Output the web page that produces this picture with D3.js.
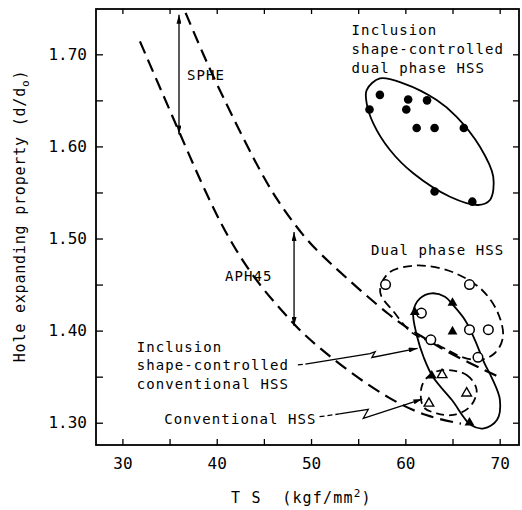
<!DOCTYPE html>
<html>
<head>
<meta charset="utf-8">
<script src="https://cdn.jsdelivr.net/npm/d3@7"></script>
<style>
  body { margin: 0; background: #fff; }
  text { font-family: "DejaVu Sans Mono", "Liberation Mono", monospace; fill: #000; white-space: pre; }
</style>
</head>
<body>
<div id="chart"></div>
<script>
// values: TS (kgf/mm2) and hole expanding property (d/d0)

// inclusion shape-controlled dual phase HSS (filled circles)
var scDualTS = [57.3, 56.2, 60.3, 62.3, 60.1, 61.2, 63.1, 66.2, 63.1, 67.1];
var scDualHE = [1.656, 1.640, 1.651, 1.650, 1.640, 1.620, 1.620, 1.620, 1.551, 1.540];

// dual phase HSS (open circles)
var dualTS = [57.9, 66.8, 61.7, 66.8, 68.8, 62.7, 67.7];
var dualHE = [1.450, 1.450, 1.419, 1.401, 1.401, 1.390, 1.371];

// inclusion shape-controlled conventional HSS (filled triangles)
var scConvTS = [65.0, 61.0, 65.0, 62.8, 66.8];
var scConvHE = [1.430, 1.420, 1.399, 1.351, 1.300];

// conventional HSS (open triangles)
var convTS = [63.9, 66.5, 62.5];
var convHE = [1.352, 1.332, 1.321];

// SPHE and APH45 boundary curves (dashed)
var sphTS = [36.7, 38.6, 40.3, 44.2, 46.35, 49.2, 51.4, 58.9, 61.9, 63.5, 65.2, 68.4, 69.85];
var sphHE = [1.745, 1.699, 1.661, 1.580, 1.542, 1.502, 1.4785, 1.410, 1.393, 1.3825, 1.373, 1.357, 1.350];
var aphTS = [31.86, 35.92, 39.28, 41.75, 44.58, 48.1, 49.5, 53.77, 58.37, 62.26, 65.9];
var aphHE = [1.714, 1.618, 1.539, 1.491, 1.448, 1.408, 1.393, 1.357, 1.325, 1.3065, 1.299];

// group outlines
var scDualLoopTS = [55.9, 57.31, 59.78, 63.32, 65.44, 67.91, 69.32, 68.97, 67.73, 64.73, 60.84, 58.37, 56.6, 55.9];
var scDualLoopHE = [1.6612, 1.6739, 1.6685, 1.6504, 1.6322, 1.5997, 1.5671, 1.5418, 1.5364, 1.5454, 1.5708, 1.5961, 1.6251, 1.6468];
var dualLoopTS = [57.41, 58.37, 60.49, 62.4, 65.26, 68.13, 69.82, 70.35, 69.5, 67.91, 66.0, 63.46, 60.6, 58.79, 57.41];
var dualLoopHE = [1.4495, 1.4636, 1.4701, 1.4701, 1.4625, 1.4441, 1.4191, 1.3931, 1.3757, 1.3681, 1.3714, 1.3844, 1.3985, 1.4202, 1.4386];
var scConvLoopTS = [60.84, 61.55, 62.79, 64.2, 65.05, 66.32, 67.38, 68.33, 69.18, 70.03, 69.71, 68.33, 66.95, 64.94, 62.93, 61.97, 61.23];
var scConvLoopHE = [1.4205, 1.435, 1.4405, 1.4368, 1.4278, 1.4115, 1.3898, 1.3659, 1.3485, 1.3246, 1.3029, 1.2939, 1.2975, 1.3246, 1.3496, 1.3703, 1.3941];
var convLoopTS = [64.02, 66.5, 67.56, 66.85, 65.08, 63.32, 61.9, 61.73, 62.61];
var convLoopHE = [1.3572, 1.3518, 1.3355, 1.3174, 1.3084, 1.3102, 1.3174, 1.3391, 1.3518];

// axis ticks
var yMajor = [1.30, 1.40, 1.50, 1.60, 1.70];
var yTicks = [1.30, 1.35, 1.40, 1.45, 1.50, 1.55, 1.60, 1.65, 1.70];
var xMajor = [30, 40, 50, 60, 70];
var xTicks = [30, 35, 40, 45, 50, 55, 60, 65, 70];

///////////////////////////////////////////////////////////////////////////////

var W = 522, H = 510;
var padL = 96, padR = 519, padT = 9, padB = 445;

var x = d3.scaleLinear().domain([27.2, 72.05]).range([padL, padR]);
var y = d3.scaleLinear().domain([1.2758, 1.7492]).range([padB, padT]);

var svg = d3.select("#chart").append("svg")
    .attr("width", W)
    .attr("height", H);

// slim arrow head for the range arrows and callouts
svg.append("defs").append("marker")
    .attr("id", "tip")
    .attr("viewBox", "0 0 9 5")
    .attr("refX", 9).attr("refY", 2.5)
    .attr("markerWidth", 9).attr("markerHeight", 5)
    .attr("markerUnits", "userSpaceOnUse")
    .attr("orient", "auto-start-reverse")
  .append("path")
    .attr("d", "M0,0L9,2.5L0,5Z")
    .attr("fill", "#000");

function pts(xs, ys) { return d3.zip(xs, ys); }

var line = d3.line()
    .x(function(d) { return x(d[0]); })
    .y(function(d) { return y(d[1]); });

//axes, ticks pointing inward on all four sides
function noLabel() { return ""; }

svg.append("g")
    .attr("transform", "translate(" + padL + ",0)")
    .call(d3.axisLeft(y).tickValues(yTicks).tickSize(-7).tickPadding(9)
        .tickFormat(function(d) { return yMajor.some(function(m) { return Math.abs(m - d) < 1e-6; }) ? d3.format(".2f")(d) : ""; }));

svg.append("g")
    .attr("transform", "translate(" + padR + ",0)")
    .call(d3.axisRight(y).tickValues(yTicks).tickSize(-6).tickFormat(noLabel));

svg.append("g")
    .attr("transform", "translate(0," + padB + ")")
    .call(d3.axisBottom(x).tickValues(xTicks).tickSize(-6).tickPadding(13)
        .tickFormat(function(d) { return xMajor.indexOf(d) >= 0 ? d : ""; }));

svg.append("g")
    .attr("transform", "translate(0," + padT + ")")
    .call(d3.axisTop(x).tickValues(xTicks).tickSize(-5).tickFormat(noLabel));

svg.selectAll(".domain").remove();
svg.selectAll(".tick line").attr("stroke", "#000").attr("stroke-width", 1.3);
svg.selectAll(".tick text")
    .style("font-family", "'DejaVu Sans Mono', monospace")
    .style("font-size", "16px")
    .attr("fill", "#000");

svg.append("rect")
    .attr("x", padL).attr("y", padT)
    .attr("width", padR - padL).attr("height", padB - padT)
    .attr("fill", "none")
    .attr("stroke", "#000")
    .attr("stroke-width", 1.8);

// axis titles
var xt = svg.append("text")
    .attr("x", 231).attr("y", 503)
    .style("font-size", "15px").style("letter-spacing", "1.2px");
xt.append("tspan").text("T S  (kgf/mm");
xt.append("tspan").attr("dy", -6).style("font-size", "11px").text("2");
xt.append("tspan").attr("dy", 6).text(")");

var yt = svg.append("text")
    .attr("transform", "translate(25,216) rotate(-90)")
    .attr("text-anchor", "middle")
    .style("font-size", "15px").style("letter-spacing", "0.8px");
yt.append("tspan").text("Hole expanding property (d/d");
yt.append("tspan").attr("dy", 4).style("font-size", "11px").text("o");
yt.append("tspan").attr("dy", -4).text(")");

///////////////////////////////////////////////////////////////////////////////
// boundary curves

var curve = d3.line()
    .x(function(d) { return x(d[0]); })
    .y(function(d) { return y(d[1]); })
    .curve(d3.curveBasis);

[pts(sphTS, sphHE), pts(aphTS, aphHE)].forEach(function(c) {
  svg.append("path")
      .attr("d", curve(c))
      .attr("fill", "none")
      .attr("stroke", "#000")
      .attr("stroke-width", 2.2)
      .attr("stroke-dasharray", "13,7");
});

// group outlines
var loop = d3.line()
    .x(function(d) { return x(d[0]); })
    .y(function(d) { return y(d[1]); })
    .curve(d3.curveCatmullRomClosed);

var outlines = [
  {p: pts(scDualLoopTS, scDualLoopHE), dash: null},
  {p: pts(dualLoopTS, dualLoopHE), dash: "9,5"},
  {p: pts(scConvLoopTS, scConvLoopHE), dash: null},
  {p: pts(convLoopTS, convLoopHE), dash: "8,5"}
];
outlines.forEach(function(o) {
  svg.append("path")
      .attr("d", loop(o.p))
      .attr("fill", "none")
      .attr("stroke", "#000")
      .attr("stroke-width", 1.8)
      .attr("stroke-dasharray", o.dash);
});

// SPHE / APH45 range arrows
[[36.0, 1.743, 1.613], [48.2, 1.507, 1.405]].forEach(function(a) {
  svg.append("line")
      .attr("x1", x(a[0])).attr("x2", x(a[0]))
      .attr("y1", y(a[1])).attr("y2", y(a[2]))
      .attr("stroke", "#000").attr("stroke-width", 1.3)
      .attr("marker-start", "url(#tip)")
      .attr("marker-end", "url(#tip)");
});

// zig-zag callouts from the lower left labels
var callouts = [
  {dashed: [[48.6, 1.3627], [49.4, 1.3637]],
   solid: [[49.4, 1.3637], [56.25, 1.3751], [56.8, 1.3772], [56.45, 1.3708], [61.3, 1.3808]]},
  {dashed: [[50.9, 1.3065], [53.0, 1.3095]],
   solid: [[53.0, 1.3095], [56.07, 1.3145], [55.54, 1.3048], [61.8, 1.3257]]}
];
callouts.forEach(function(c) {
  svg.append("path")
      .attr("d", line(c.dashed))
      .attr("fill", "none").attr("stroke", "#000").attr("stroke-width", 1.3)
      .attr("stroke-dasharray", "5,3");
  svg.append("path")
      .attr("d", line(c.solid))
      .attr("fill", "none").attr("stroke", "#000").attr("stroke-width", 1.3)
      .attr("marker-end", "url(#tip)");
});

///////////////////////////////////////////////////////////////////////////////
// points

svg.selectAll("circle.scdual")
    .data(pts(scDualTS, scDualHE))
    .enter().append("circle")
    .attr("class", "scdual")
    .attr("cx", function(d) { return x(d[0]); })
    .attr("cy", function(d) { return y(d[1]); })
    .attr("r", 4.3)
    .attr("fill", "#000");

svg.selectAll("circle.dual")
    .data(pts(dualTS, dualHE))
    .enter().append("circle")
    .attr("class", "dual")
    .attr("cx", function(d) { return x(d[0]); })
    .attr("cy", function(d) { return y(d[1]); })
    .attr("r", 4.8)
    .attr("fill", "#fff")
    .attr("stroke", "#000")
    .attr("stroke-width", 1.5);

var tri = d3.symbol().type(d3.symbolTriangle);

svg.selectAll("path.scconv")
    .data(pts(scConvTS, scConvHE))
    .enter().append("path")
    .attr("class", "scconv")
    .attr("d", tri.size(42)())
    .attr("transform", function(d) { return "translate(" + x(d[0]) + "," + y(d[1]) + ")"; })
    .attr("fill", "#000");

svg.selectAll("path.conv")
    .data(pts(convTS, convHE))
    .enter().append("path")
    .attr("class", "conv")
    .attr("d", tri.size(40)())
    .attr("transform", function(d) { return "translate(" + x(d[0]) + "," + y(d[1]) + ")"; })
    .attr("fill", "#fff")
    .attr("stroke", "#000")
    .attr("stroke-width", 1.4);

///////////////////////////////////////////////////////////////////////////////
// labels

var notes = [
  {at: [54.3, 1.721], lines: ["Inclusion", "shape-controlled", "dual phase HSS"], step: 19},
  {at: [36.84, 1.6716], lines: ["SPHE"], step: 0},
  {at: [40.87, 1.4539], lines: ["APH45"], step: 0},
  {at: [56.35, 1.4821], lines: ["Dual phase HSS"], step: 0},
  {at: [31.51, 1.3771], lines: ["Inclusion", "shape-controlled", "conventional HSS"], step: 18.5},
  {at: [34.43, 1.2983], lines: ["Conventional HSS"], step: 0}
];

notes.forEach(function(n) {
  var t = svg.append("text")
      .attr("x", x(n.at[0]))
      .attr("y", y(n.at[1]))
      .style("font-size", "14px")
      .style("letter-spacing", "1.1px");
  n.lines.forEach(function(s, i) {
    t.append("tspan")
        .attr("x", x(n.at[0]))
        .attr("dy", i === 0 ? 0 : n.step)
        .text(s);
  });
});
</script>
</body>
</html>
